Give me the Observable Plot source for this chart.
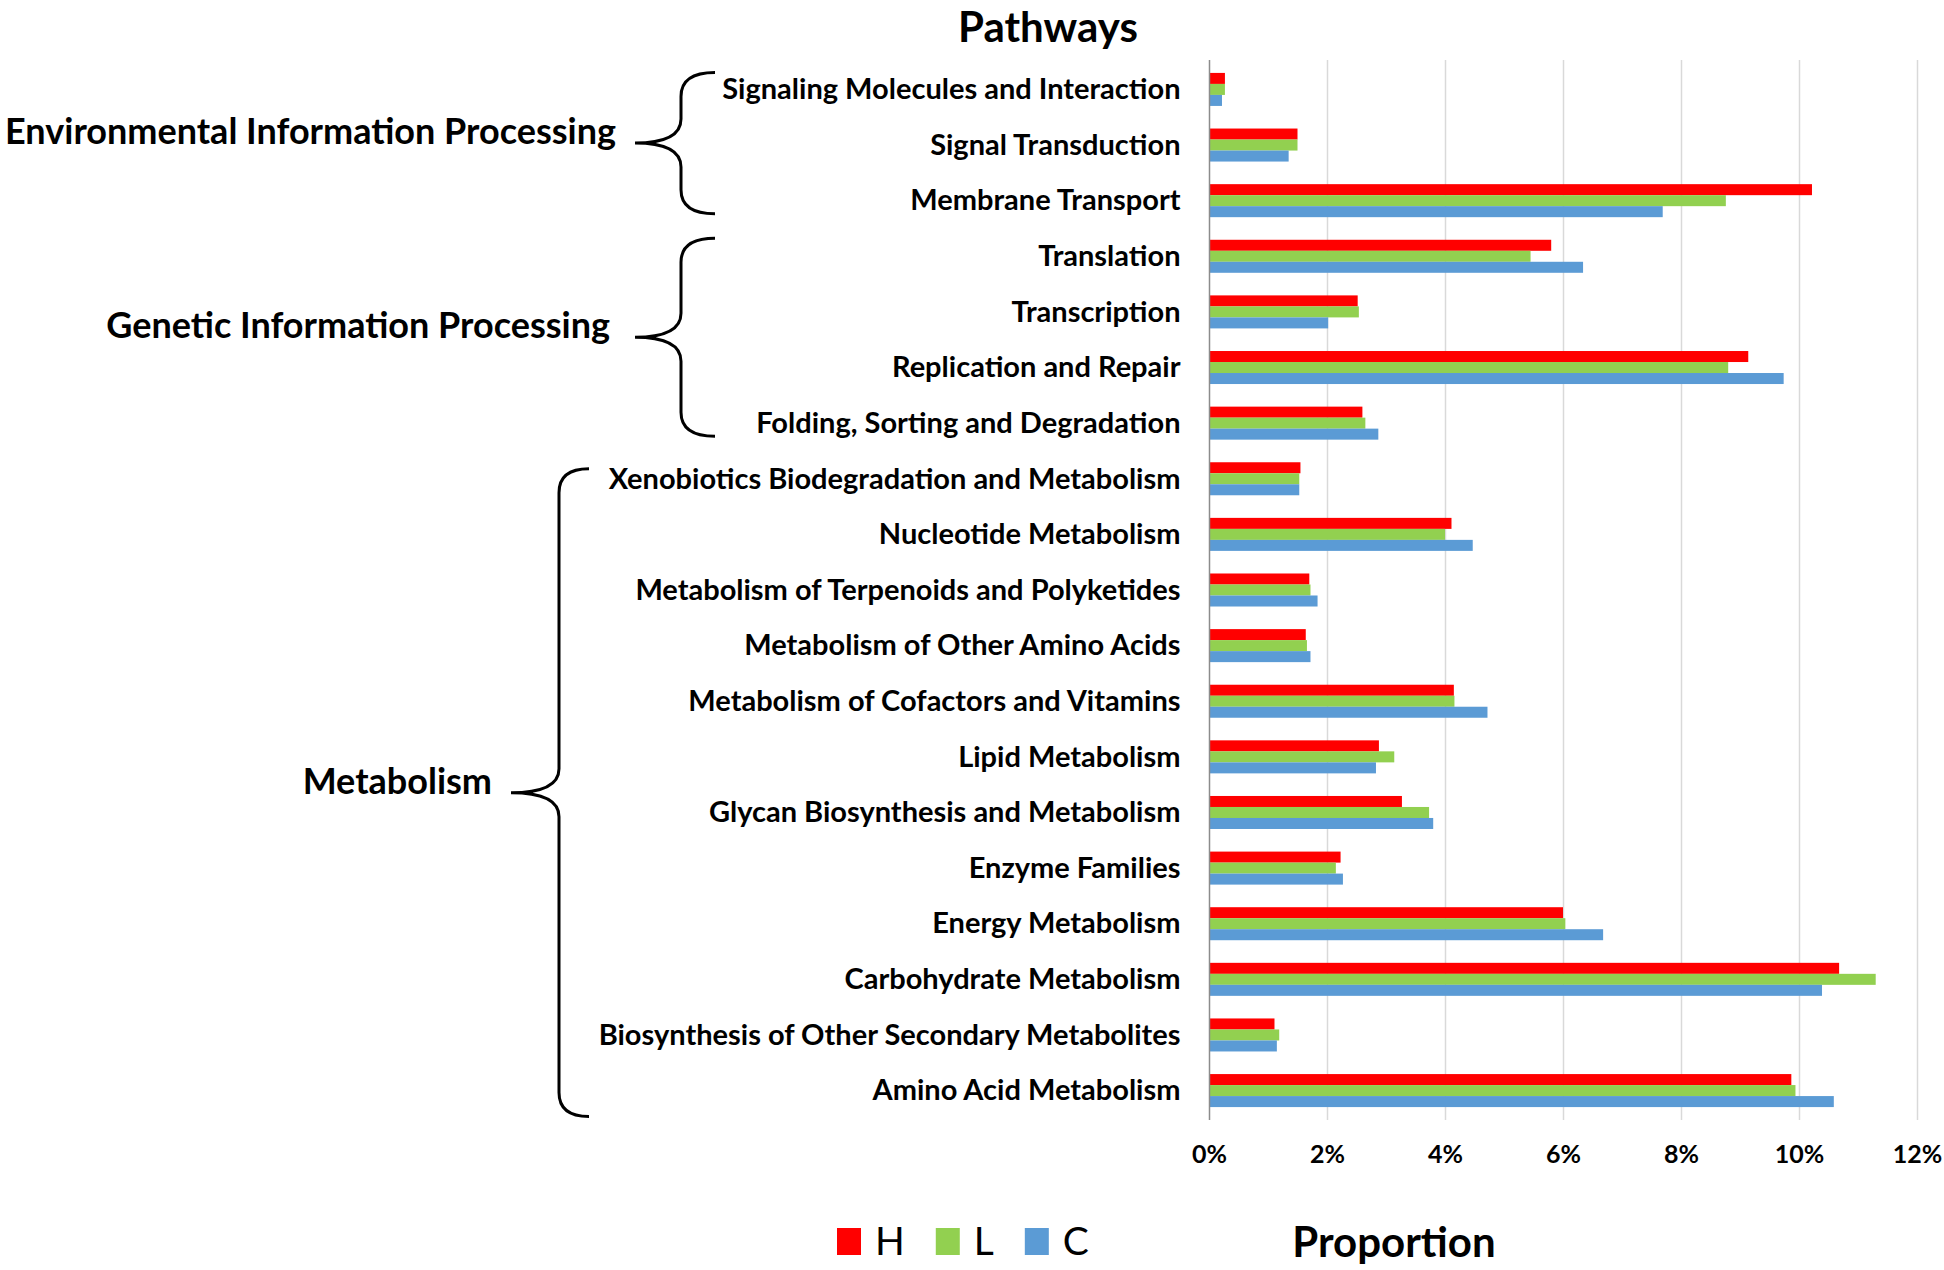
<!DOCTYPE html>
<html><head><meta charset="utf-8">
<script src="https://cdn.jsdelivr.net/npm/d3@7"></script>
<script src="https://cdn.jsdelivr.net/npm/@observablehq/plot@0.6"></script>
<style>body{margin:0;background:#fff;}</style>
</head><body><div id="chart"></div>
<script>
const pathways = [
  "Signaling Molecules and Interaction",
  "Signal Transduction",
  "Membrane Transport",
  "Translation",
  "Transcription",
  "Replication and Repair",
  "Folding, Sorting and Degradation",
  "Xenobiotics Biodegradation and Metabolism",
  "Nucleotide Metabolism",
  "Metabolism of Terpenoids and Polyketides",
  "Metabolism of Other Amino Acids",
  "Metabolism of Cofactors and Vitamins",
  "Lipid Metabolism",
  "Glycan Biosynthesis and Metabolism",
  "Enzyme Families",
  "Energy Metabolism",
  "Carbohydrate Metabolism",
  "Biosynthesis of Other Secondary Metabolites",
  "Amino Acid Metabolism"
];
const valuesH = [0.27, 1.50, 10.22, 5.80, 2.52, 9.14, 2.60, 1.55, 4.11, 1.70, 1.64, 4.15, 2.88, 3.27, 2.23, 6.00, 10.68, 1.11, 9.87];
const valuesL = [0.27, 1.50, 8.76, 5.45, 2.54, 8.80, 2.65, 1.53, 4.00, 1.72, 1.66, 4.16, 3.14, 3.73, 2.15, 6.04, 11.30, 1.19, 9.94];
const valuesC = [0.22, 1.35, 7.69, 6.34, 2.02, 9.74, 2.87, 1.53, 4.47, 1.84, 1.72, 4.72, 2.83, 3.80, 2.27, 6.68, 10.39, 1.15, 10.59];
const series = ["H", "L", "C"];
const seriesColors = ["#FF0000", "#92D050", "#5B9BD5"];
const xTicks = [0, 2, 4, 6, 8, 10, 12];
const groups = [
  {name: "Environmental Information Processing", first: "Signaling Molecules and Interaction", last: "Membrane Transport"},
  {name: "Genetic Information Processing", first: "Translation", last: "Folding, Sorting and Degradation"},
  {name: "Metabolism", first: "Xenobiotics Biodegradation and Metabolism", last: "Amino Acid Metabolism"}
];
const titleText = "Pathways";
const xLabelText = "Proportion";

const seriesValues = [valuesH, valuesL, valuesC];
const data = pathways.flatMap((p, i) => series.map((s, j) => ({pathway: p, series: s, value: seriesValues[j][i]})));

const FONT = "Lato, 'Open Sans', sans-serif";
const W = 1944, HT = 1270;

const plot = Plot.plot({
  width: W, height: HT,
  marginTop: 60, marginBottom: 150, marginLeft: 1209, marginRight: 27,
  style: {fontFamily: FONT, fontWeight: "bold", fontSize: "29px", color: "#000", background: "#fff", overflow: "visible"},
  x: {domain: [0, 12], label: null},
  y: {domain: pathways, paddingInner: 0.802, paddingOuter: 0.43, round: false, label: null},
  color: {domain: series, range: seriesColors},
  marks: [
    Plot.gridX({ticks: xTicks.slice(1), stroke: "#d9d9d9", strokeOpacity: 1, strokeWidth: 1.5}),
    Plot.axisX({ticks: xTicks, tickFormat: d => d + "%", tickSize: 0, tickPadding: 25, fontSize: 25, label: null}),
    Plot.axisY({tickSize: 0, tickPadding: 29, fontSize: 29, label: null}),
    ...series.map((s, j) => Plot.barX(data.filter(d => d.series === s), {x: "value", y: "pathway", fill: "series", dy: (j - 1) * 11})),
    Plot.ruleX([0], {stroke: "#8c8c8c", strokeWidth: 1.5})
  ]
});

document.getElementById("chart").appendChild(plot);

const svg = d3.select(plot);
const yS = plot.scale("y");
const center = p => yS.apply(p) + yS.bandwidth / 2;

// Title and axis label
svg.append("text").attr("x", 1048).attr("y", 42).attr("text-anchor", "middle")
  .attr("font-size", 42).attr("font-weight", "bold").attr("fill", "#000").text(titleText);
svg.append("text").attr("x", 1394).attr("y", 1257).attr("text-anchor", "middle")
  .attr("font-size", 42).attr("font-weight", "bold").attr("fill", "#000").text(xLabelText);

// Legend
let lx = 837;
series.forEach((s, j) => {
  svg.append("rect").attr("x", lx).attr("y", 1228).attr("width", 24).attr("height", 27).attr("fill", seriesColors[j]);
  const t = svg.append("text").attr("x", lx + 38).attr("y", 1255).attr("text-anchor", "start")
    .attr("font-size", 39).attr("font-weight", "normal").attr("fill", "#000").text(s);
  lx = lx + 38 + t.node().getComputedTextLength() + 31;
});

// Braces and group labels
const braceGeom = [
  {end: 715, line: 681, tip: 635, topPad: 17, botPad: 13, labelX: 616},
  {end: 715, line: 681, tip: 635, topPad: 18, botPad: 13, labelX: 610},
  {end: 589, line: 559, tip: 511, topPad: 10, botPad: 26, labelX: 492}
];
groups.forEach((g, i) => {
  const b = braceGeom[i];
  const top = center(g.first) - b.topPad;
  const bot = center(g.last) + b.botPad;
  const mid = (top + bot) / 2;
  const r = 24, rm = 24;
  const d = `M${b.end},${top} Q${b.line},${top} ${b.line},${top + r} L${b.line},${mid - rm} Q${b.line},${mid} ${b.tip},${mid} Q${b.line},${mid} ${b.line},${mid + rm} L${b.line},${bot - r} Q${b.line},${bot} ${b.end},${bot}`;
  svg.append("path").attr("d", d).attr("fill", "none").attr("stroke", "#000").attr("stroke-width", 3);
  svg.append("text").attr("x", b.labelX).attr("y", mid - 8).attr("text-anchor", "end").attr("dominant-baseline", "middle")
    .attr("font-size", 36).attr("font-weight", "bold").attr("fill", "#000").text(g.name);
});
</script>
</body></html>
